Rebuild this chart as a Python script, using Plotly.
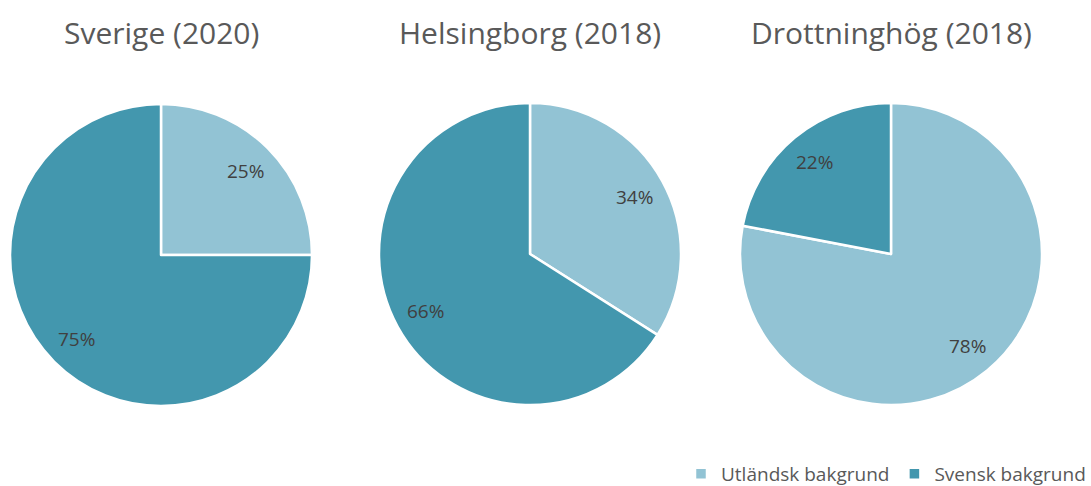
import math
import plotly.graph_objects as go

titles = ["Sverige (2020)", "Helsingborg (2018)", "Drottninghög (2018)"]
categories = ["Utländsk bakgrund", "Svensk bakgrund"]
sverige = [25, 75]
helsingborg = [34, 66]
drottninghog = [78, 22]
series = [sverige, helsingborg, drottninghog]
colors = ["#92C3D4", "#4397AE"]

W, H = 1091, 486
# pie boxes in pixels (left, right, top, bottom)
boxes = [(10, 312, 104, 406), (379, 681, 103, 405), (740, 1042, 103, 405)]
LABEL_R = 0.79

fig = go.Figure()
for i, (vals, box) in enumerate(zip(series, boxes)):
    l, r, t, b = box
    fig.add_trace(go.Pie(
        labels=categories, values=vals, sort=False, direction="clockwise", rotation=0,
        marker=dict(colors=colors, line=dict(color="white", width=2.5)),
        textinfo="none",
        domain=dict(x=[l / W, r / W], y=[1 - b / H, 1 - t / H]),
        showlegend=(i == 0), hoverinfo="label+percent",
    ))
    # data labels placed at the middle angle of each slice
    cx, cy, rad = (l + r) / 2, (t + b) / 2, (r - l) / 2
    total = sum(vals)
    cum = 0
    for v in vals:
        mid = (cum + v / 2) / total * 2 * math.pi
        cum += v
        px = cx + LABEL_R * rad * math.sin(mid)
        py = cy - LABEL_R * rad * math.cos(mid)
        fig.add_annotation(text=f"{v}%", x=px / W, y=1 - py / H, xref="paper", yref="paper",
                           showarrow=False, xanchor="center", yanchor="middle",
                           font=dict(family="Open Sans", size=19, color="#404040"))
    fig.add_annotation(text=titles[i], x=(l + r) / 2 / W, y=1 - 32 / H, xref="paper", yref="paper",
                       showarrow=False, xanchor="center", yanchor="middle",
                       font=dict(family="Open Sans", size=30, color="#595959"))

fig.update_layout(
    width=W, height=H, margin=dict(l=0, r=0, t=0, b=0, autoexpand=False),
    paper_bgcolor="white", plot_bgcolor="white",
    legend=dict(orientation="h", x=1.0, xanchor="right", y=-0.014, yanchor="bottom",
                font=dict(family="Open Sans", size=19, color="#595959"), traceorder="normal",
                itemwidth=30),
)
fig.write_html("out.html")
